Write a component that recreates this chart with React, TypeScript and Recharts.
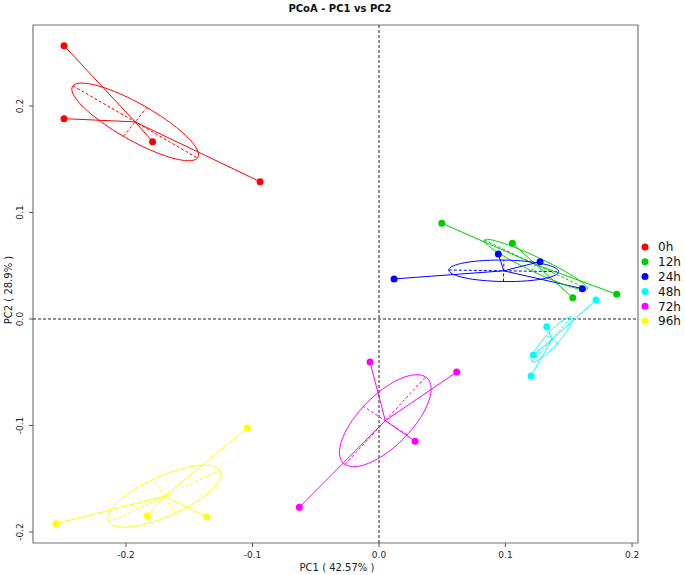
import {
  ScatterChart,
  Scatter,
  XAxis,
  YAxis,
  ReferenceLine,
  ReferenceArea,
} from "recharts";

// sample groups and colours
const groups = ["0h", "12h", "24h", "48h", "72h", "96h"];
const colors = ["#FF0000", "#00CD00", "#0000FF", "#00FFFF", "#FF00FF", "#FFFF00"];

// PC1 / PC2 coordinates
const pc1_0h = [-0.249, -0.249, -0.179, -0.094];
const pc2_0h = [0.2566, 0.1881, 0.1665, 0.1289];
const pc1_12h = [0.0496, 0.1054, 0.1531, 0.1879];
const pc2_12h = [0.0899, 0.0711, 0.02, 0.0232];
const pc1_24h = [0.0119, 0.0943, 0.1273, 0.1607];
const pc2_24h = [0.0376, 0.061, 0.0538, 0.0285];
const pc1_48h = [0.1715, 0.1326, 0.122, 0.1202];
const pc2_48h = [0.0178, -0.0072, -0.0338, -0.0535];
const pc1_72h = [-0.0071, 0.0614, 0.0285, -0.063];
const pc2_72h = [-0.0404, -0.0498, -0.1148, -0.1768];
const pc1_96h = [-0.2553, -0.1832, -0.136, -0.1041];
const pc2_96h = [-0.1922, -0.185, -0.1859, -0.1023];

const pc1 = [pc1_0h, pc1_12h, pc1_24h, pc1_48h, pc1_72h, pc1_96h];
const pc2 = [pc2_0h, pc2_12h, pc2_24h, pc2_48h, pc2_72h, pc2_96h];

const xTicks = [-0.2, -0.1, 0, 0.1, 0.2];
const yTicks = [-0.2, -0.1, 0, 0.1, 0.2];

const X_DOMAIN: [number, number] = [-0.2735, 0.2047];
const Y_DOMAIN: [number, number] = [-0.2103, 0.276];
const ELLIPSE_SCALE = 0.68;
const FONT = "DejaVu Sans, sans-serif";

// dispersion ellipse from the group's covariance
const groupShape = (xs: number[], ys: number[]) => {
  const n = xs.length;
  const mx = xs.reduce((a, b) => a + b, 0) / n;
  const my = ys.reduce((a, b) => a + b, 0) / n;
  let sxx = 0, syy = 0, sxy = 0;
  for (let i = 0; i < n; i++) {
    sxx += (xs[i] - mx) ** 2;
    syy += (ys[i] - my) ** 2;
    sxy += (xs[i] - mx) * (ys[i] - my);
  }
  sxx /= n - 1;
  syy /= n - 1;
  sxy /= n - 1;
  const tr = sxx + syy;
  const det = sxx * syy - sxy * sxy;
  const disc = Math.sqrt(Math.max(tr * tr / 4 - det, 0));
  const l1 = tr / 2 + disc;
  const l2 = Math.max(tr / 2 - disc, 0);
  const t = 0.5 * Math.atan2(2 * sxy, sxx - syy);
  const a = ELLIPSE_SCALE * Math.sqrt(l1);
  const b = ELLIPSE_SCALE * Math.sqrt(l2);
  const ct = Math.cos(t), st = Math.sin(t);
  const outline = [];
  for (let i = 0; i <= 90; i++) {
    const p = (2 * Math.PI * i) / 90;
    outline.push({
      x: mx + a * Math.cos(p) * ct - b * Math.sin(p) * st,
      y: my + a * Math.cos(p) * st + b * Math.sin(p) * ct,
    });
  }
  return {
    center: { x: mx, y: my },
    outline,
    major: [
      { x: mx - a * ct, y: my - a * st },
      { x: mx + a * ct, y: my + a * st },
    ],
    minor: [
      { x: mx + b * st, y: my - b * ct },
      { x: mx - b * st, y: my + b * ct },
    ],
  };
};

const Nothing = () => <g />;

const XTick = ({ x, y, payload }: any) => (
  <text x={x} y={y + 9} textAnchor="middle" fontSize={9} fontFamily={FONT} fill="#222">
    {Number(payload.value).toFixed(1)}
  </text>
);

const YTick = ({ x, y, payload }: any) => (
  <text
    x={x - 4}
    y={y}
    transform={`rotate(-90, ${x - 4}, ${y})`}
    textAnchor="middle"
    fontSize={9}
    fontFamily={FONT}
    fill="#222"
  >
    {Number(payload.value).toFixed(1)}
  </text>
);

const PcoaPlot = () => {
  const shapes = groups.map((_, i) => groupShape(pc1[i], pc2[i]));

  return (
    <ScatterChart width={685} height={575} margin={{ top: 25, right: 47, left: 0, bottom: 0 }}>
      <XAxis
        type="number"
        dataKey="x"
        domain={X_DOMAIN}
        ticks={xTicks}
        allowDataOverflow
        height={32}
        axisLine={false}
        tickSize={4}
        tickLine={{ stroke: "#555" }}
        tick={XTick}
      />
      <YAxis
        type="number"
        dataKey="y"
        domain={Y_DOMAIN}
        ticks={yTicks}
        allowDataOverflow
        width={33}
        axisLine={false}
        tickSize={4}
        tickLine={{ stroke: "#555" }}
        tick={YTick}
      />

      <ReferenceArea
        x1={X_DOMAIN[0]}
        x2={X_DOMAIN[1]}
        y1={Y_DOMAIN[0]}
        y2={Y_DOMAIN[1]}
        fill="none"
        stroke="#777"
        strokeWidth={1.2}
      />
      <ReferenceLine x={0} stroke="#222" strokeDasharray="3 2" />
      <ReferenceLine y={0} stroke="#222" strokeDasharray="3 2" />

      {shapes.map((s, i) => (
        <ReferenceLine key={`maj${i}`} segment={s.major} stroke={colors[i]} strokeDasharray="3 2" />
      ))}
      {shapes.map((s, i) => (
        <ReferenceLine key={`min${i}`} segment={s.minor} stroke={colors[i]} strokeDasharray="3 2" />
      ))}
      {shapes.map((s, i) =>
        pc1[i].map((px, j) => (
          <ReferenceLine
            key={`sp${i}-${j}`}
            segment={[s.center, { x: px, y: pc2[i][j] }]}
            stroke={colors[i]}
            strokeWidth={1}
          />
        ))
      )}

      {shapes.map((s, i) => (
        <Scatter
          key={`ell${i}`}
          data={s.outline}
          line={{ stroke: colors[i], strokeWidth: 1 }}
          lineType="joint"
          shape={Nothing}
          legendType="none"
          isAnimationActive={false}
        />
      ))}

      {groups.map((g, i) => (
        <Scatter
          key={g}
          name={g}
          data={pc1[i].map((px, j) => ({ x: px, y: pc2[i][j] }))}
          fill={colors[i]}
          shape={(p: any) => <circle cx={p.cx} cy={p.cy} r={3.5} fill={colors[i]} />}
          isAnimationActive={false}
        />
      ))}

      <text x={340} y={12} textAnchor="middle" fontSize={10} fontWeight="bold" fontFamily={FONT} fill="#111">
        PCoA - PC1 vs PC2
      </text>
      <text x={337} y={571} textAnchor="middle" fontSize={10} fontFamily={FONT} fill="#222">
        PC1 ( 42.57% )
      </text>
      <text
        x={12}
        y={290}
        transform="rotate(-90, 12, 290)"
        textAnchor="middle"
        fontSize={10}
        fontFamily={FONT}
        fill="#222"
      >
        PC2 ( 28.9% )
      </text>

      {/* legend */}
      {groups.map((g, i) => (
        <g key={`lg${g}`}>
          <circle cx={645} cy={247 + i * 14.8} r={3.5} fill={colors[i]} />
          <text x={658} y={247 + i * 14.8} dy="0.36em" fontSize={12} fontFamily={FONT} fill="#111">
            {g}
          </text>
        </g>
      ))}
    </ScatterChart>
  );
};

export default function App() {
  return (
    <div style={{ position: "absolute", left: 0, top: 0, background: "#fff" }}>
      <PcoaPlot />
    </div>
  );
}
